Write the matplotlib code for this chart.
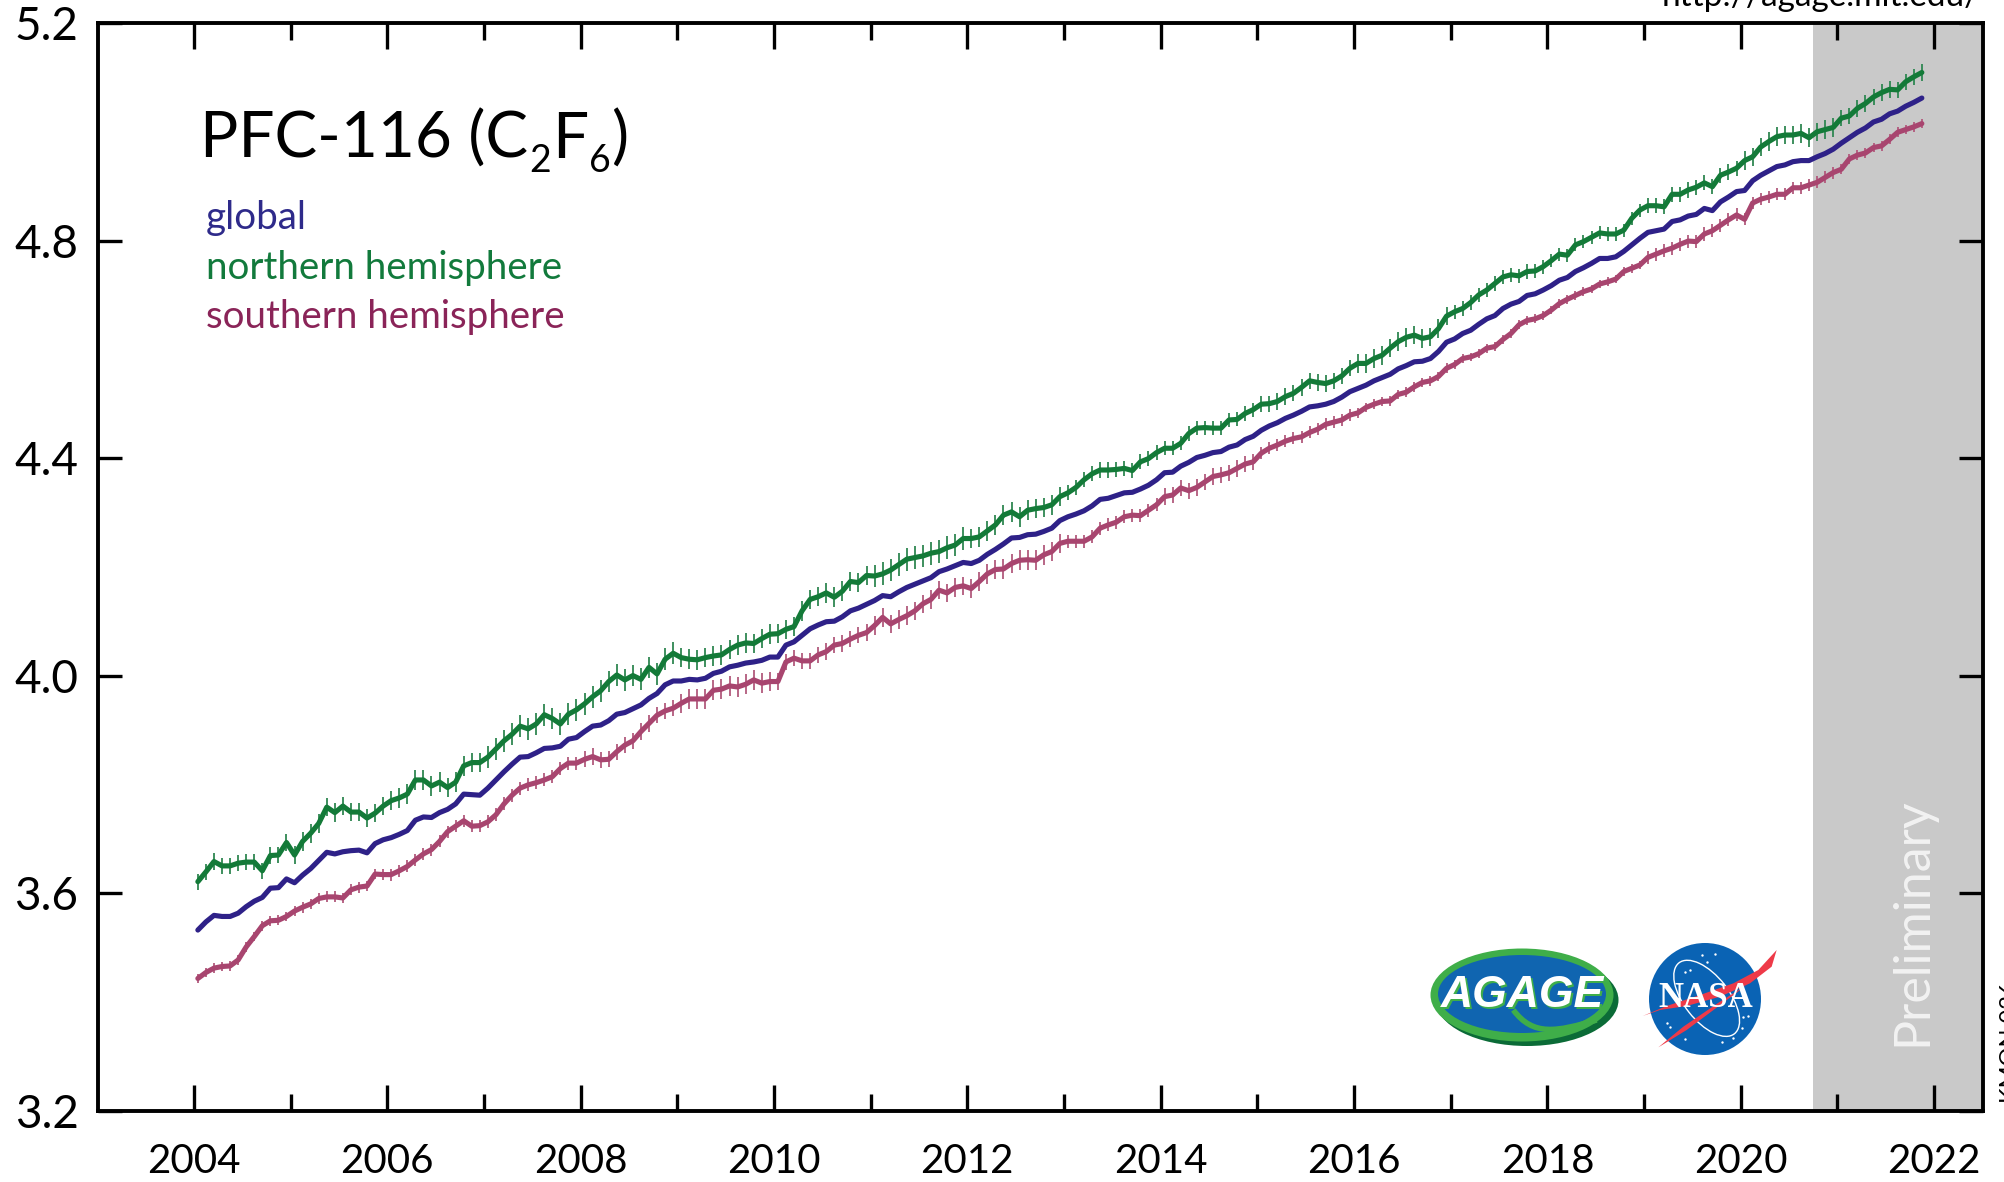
import numpy as np
import matplotlib
matplotlib.use('Agg')
import matplotlib.pyplot as plt
from matplotlib.patches import Ellipse, Polygon, PathPatch
from matplotlib.path import Path

plt.rcParams['font.family'] = ['Lato', 'DejaVu Sans']

start_year = 2004.04   # mid january, data are monthly

north = [3.621,3.639,3.658,3.650,3.650,3.655,3.657,3.657,3.641,3.669,3.670,3.693,3.670,3.695,3.710,3.728,3.758,3.748,3.760,3.749,3.749,3.738,3.747,3.760,3.770,3.775,3.782,3.808,3.808,3.797,3.804,3.794,3.804,3.834,3.840,3.840,3.850,3.865,3.880,3.892,3.907,3.902,3.911,3.928,3.921,3.911,3.929,3.937,3.948,3.961,
         3.972,3.989,4.001,3.992,4.000,3.993,4.015,4.003,4.030,
         4.041,4.033,4.030,4.029,4.033,4.036,4.038,4.048,4.056,4.060,4.059,4.068,4.076,4.077,4.085,4.090,4.119,4.140,4.145,4.152,4.144,4.155,4.173,4.171,4.184,4.183,4.187,4.194,4.204,4.214,4.217,4.220,
         4.225,4.228,4.235,4.240,4.252,4.252,4.255,4.266,4.277,4.295,4.301,4.292,4.304,4.307,4.309,4.314,4.329,4.336,4.346,4.360,4.371,4.378,4.378,4.379,4.381,4.377,4.393,4.399,4.410,4.418,4.418,4.427,4.445,
         4.455,4.456,4.455,4.455,4.470,4.471,4.482,4.489,4.499,4.500,4.504,4.513,4.519,4.530,4.542,4.539,4.537,4.542,4.551,4.565,4.574,4.574,4.583,4.589,4.602,4.614,4.622,4.626,4.620,4.623,4.638,4.661,
         4.669,4.675,4.686,4.700,4.709,4.721,4.733,4.737,4.735,4.743,4.744,4.752,4.763,4.775,4.773,4.792,4.798,4.806,4.814,4.812,4.812,4.819,4.841,4.856,4.864,4.864,4.862,4.885,4.885,4.893,4.898,
         4.906,4.899,4.920,4.926,4.933,4.947,4.954,4.972,4.982,4.991,4.994,4.994,4.997,4.989,5.000,5.004,5.008,5.025,5.029,5.043,5.052,5.064,5.072,5.078,5.077,5.092,5.101,5.109]

glob_mean = [3.532,3.547,3.559,3.557,3.557,3.563,3.575,3.585,3.592,3.609,3.610,3.626,3.619,3.633,3.645,3.660,3.675,3.672,3.676,3.678,3.679,3.674,3.691,3.698,3.702,3.708,3.715,3.734,3.740,3.739,3.748,3.754,3.764,3.782,3.781,3.780,3.793,3.808,3.823,3.837,3.850,3.851,3.858,3.866,3.867,3.870,3.883,3.886,3.897,3.907,3.909,3.917,3.929,3.932,3.939,3.946,3.958,
             3.967,3.983,
             3.990,3.990,3.993,3.992,3.995,4.004,4.008,4.016,4.019,4.023,4.025,4.028,4.034,4.034,4.056,4.062,4.074,4.086,4.093,4.099,4.100,4.108,4.119,4.124,4.131,4.138,4.147,4.145,4.154,4.162,4.168,4.174,4.180,
             4.191,4.196,4.202,4.208,4.206,4.212,4.223,4.232,4.242,4.253,4.254,4.259,4.260,4.265,4.271,4.285,4.292,4.297,4.303,4.312,4.324,4.326,4.331,4.336,4.337,4.343,4.350,4.360,4.373,4.374,4.385,4.392,
             4.401,4.405,4.410,4.412,4.420,4.424,4.434,4.440,4.451,4.459,4.465,4.473,4.479,4.486,4.494,4.496,4.499,4.504,4.512,4.522,4.528,4.534,4.542,4.548,4.554,4.564,4.570,4.577,4.578,4.583,4.596,4.613,
             4.619,4.629,4.635,4.646,4.656,4.662,4.675,4.683,4.688,4.699,4.702,4.709,4.717,4.727,4.732,4.743,4.750,4.758,4.767,4.767,4.770,4.780,4.792,4.804,4.815,4.818,4.821,4.835,4.838,4.845,4.848,
             4.859,4.855,4.871,4.880,4.890,4.892,4.910,4.920,4.928,4.936,4.939,4.945,4.947,4.947,4.954,4.960,4.968,4.979,4.989,4.999,5.007,5.018,5.023,5.033,5.038,5.047,5.054,5.062]

south = [3.443,3.454,3.462,3.465,3.466,3.477,3.501,3.520,3.540,3.549,3.550,3.557,3.567,3.574,3.580,3.590,3.593,3.593,3.591,3.606,3.611,3.613,3.635,3.634,3.634,3.641,3.649,3.661,3.672,3.680,3.695,3.713,3.723,3.733,3.723,3.724,3.731,3.744,3.764,3.780,3.793,3.799,3.803,3.808,3.814,3.829,3.839,3.839,3.846,3.851,3.845,3.846,3.860,3.872,3.880,3.897,3.912,3.927,3.935,
         3.940,3.949,3.957,3.957,3.957,3.973,3.975,3.981,3.979,3.984,3.992,3.986,3.989,3.989,4.025,4.032,4.027,4.027,4.038,4.044,4.056,4.059,4.067,4.074,4.079,4.092,4.107,4.095,4.103,4.110,4.119,4.132,4.140,
         4.157,4.152,4.162,4.165,4.160,4.173,4.187,4.195,4.196,4.206,4.212,4.213,4.212,4.222,4.228,4.243,4.247,4.247,4.247,4.255,4.271,4.277,4.282,4.292,4.295,4.294,4.304,4.314,4.329,4.332,4.345,4.340,
         4.346,4.356,4.366,4.369,4.373,4.381,4.389,4.393,4.409,4.418,4.424,4.431,4.436,4.439,4.447,4.453,4.462,4.466,4.470,4.479,4.483,4.493,4.499,4.504,4.505,4.517,4.521,4.531,4.539,4.542,4.550,4.565,
         4.572,4.583,4.586,4.592,4.602,4.605,4.618,4.629,4.645,4.653,4.656,4.662,4.672,4.684,4.692,4.699,4.706,4.711,4.720,4.724,4.729,4.743,4.749,4.755,4.769,4.775,4.781,4.786,4.793,4.799,4.798,
         4.812,4.818,4.828,4.838,4.847,4.839,4.869,4.876,4.880,4.885,4.885,4.897,4.897,4.902,4.907,4.916,4.925,4.931,4.950,4.957,4.961,4.971,4.974,4.986,4.999,5.004,5.009,5.015]

# typical size of the monthly bars, per calendar year 2004..2021
north_err_by_year = [.015,.017,.018,.020,.020,.018,.018,.021,.018,.014,.013,.015,.017,.013,.012,.014,.017,.015]
south_err_by_year = [.009,.010,.011,.012,.015,.018,.015,.017,.018,.012,.015,.011,.009,.008,.008,.012,.011,.009]

year_ticks = list(range(2004, 2023))
conc_ticks = [3.2, 3.6, 4.0, 4.4, 4.8, 5.2]
legend_names = ['global', 'northern hemisphere', 'southern hemisphere']

c_glob = '#2e2188'
c_north = '#137a38'
c_south = '#a8456f'

W, H = 2004, 1182
fig = plt.figure(figsize=(W/100, H/100), dpi=100, facecolor='white')
ax = fig.add_axes([98/W, 1-1110.6/H, (1983-98)/W, (1110.6-23)/H])

t = start_year + np.arange(len(north))/12.
yr = np.floor(t-2004).astype(int)
n_err = np.array(north_err_by_year)[yr]
s_err = np.array(south_err_by_year)[yr]

ax.axvspan(2020.75, 2022.506, color='#c9c9c9', lw=0, zorder=0)

ax.vlines(t, np.array(north)-n_err, np.array(north)+n_err, color='#2f8752', lw=1.3, zorder=2)
ax.vlines(t, np.array(south)-s_err, np.array(south)+s_err, color='#b25a7d', lw=1.3, zorder=2)
ax.plot(t, north, color=c_north, lw=3.7, zorder=3, solid_capstyle='round')
ax.plot(t, south, color=c_south, lw=3.7, zorder=3, solid_capstyle='round')
ax.plot(t, glob_mean, color=c_glob, lw=3.7, zorder=3, solid_capstyle='round')

ax.set_xlim(2003.007, 2022.506)
ax.set_ylim(3.2, 5.2)
for s in ax.spines.values():
    s.set_linewidth(2.8)

ax.set_xticks([y for y in year_ticks if y % 2 == 0])
ax.set_xticklabels([str(y) for y in year_ticks if y % 2 == 0])
ax.set_xticks([y for y in year_ticks if y % 2 == 1], minor=True)
ax.set_yticks(conc_ticks)
ax.set_yticklabels(['%.1f' % v for v in conc_ticks])
ax.tick_params(axis='x', which='major', direction='in', top=True, length=19, width=2.4, labelsize=29, pad=23)
ax.tick_params(axis='x', which='minor', direction='in', top=True, length=12, width=2.4)
ax.tick_params(axis='y', which='major', direction='in', right=True, length=17, width=2.4, labelsize=33, pad=14)

# overlay in figure pixels for text and logos
ov = fig.add_axes([0, 0, 1, 1], facecolor='none')
ov.set_xlim(0, W)
ov.set_ylim(H, 0)
ov.axis('off')

# title built piece by piece, subscripts sit low
title_parts = [('PFC-116 (C', 46, 158), ('2', 27, 172), ('F', 46, 158), ('6', 27, 172), (')', 46, 158)]
rend = fig.canvas.get_renderer()
tx = 200
for part, size, base in title_parts:
    p = ov.text(tx, base, part, fontsize=size, color='black', va='baseline')
    tx += p.get_window_extent(rend).width + 1

leg_colors = ['#2e2a8a', '#127a3c', '#8a2458']
for name, col, yy in zip(legend_names, leg_colors, [218, 268, 317]):
    ov.text(206, yy, name, fontsize=27.7, color=col, va='center')

ov.text(1980, 6, 'http://agage.mit.edu/', fontsize=24, ha='right', va='baseline')
ov.text(1912, 1046, 'Preliminary', fontsize=36, color='#f2f2f2', rotation=90, ha='center', va='bottom')
ov.text(2000, 1103, 'KMON 026', fontsize=17, rotation=90, ha='left', va='bottom', clip_on=False)


def zx(z):
    return 1400 + z/3.


def zy(z):
    return 930 + z/3.


def zpts(pts):
    return [(zx(a), zy(b)) for a, b in pts]


# AGAGE logo
ov.add_patch(Ellipse((1527, 1000), 183, 92, fc='#0b6b37', ec='none'))
ov.add_patch(Ellipse((1522, 995), 183, 93, fc='#3fae49', ec='none'))
ov.add_patch(Ellipse((1522, 994), 168, 78, fc='#1065b0', ec='none'))
leaf = Path(zpts([(340, 240), (400, 320), (470, 305), (590, 270)]), [Path.MOVETO, Path.CURVE4, Path.CURVE4, Path.CURVE4])
ov.add_patch(PathPatch(leaf, fc='none', ec='#3fae49', lw=4))
ov.text(zx(368)+1.5, zy(197)+1.5, 'AGAGE', fontsize=32, fontweight='bold', style='italic', color='#3fae49',
        family='Liberation Sans', ha='center', va='center')
ov.text(zx(368), zy(197), 'AGAGE', fontsize=32, fontweight='bold', style='italic', color='white',
        family='Liberation Sans', ha='center', va='center')

# NASA logo
ov.add_patch(Ellipse((1705, 999), 112, 112, fc='#0a63b4', ec='none'))
ov.add_patch(Ellipse((zx(920), zy(205)), 90, 45, angle=52, fc='none', ec='white', lw=1.0))
star_x = [905, 945, 920, 855, 870, 1030, 1045, 1025, 855, 810, 800, 1000, 965]
star_y = [75, 72, 95, 125, 120, 260, 258, 295, 328, 290, 280, 325, 335]
ov.scatter([zx(a) for a in star_x], [zy(b) for b in star_y], s=3, color='white', lw=0)
ov.add_patch(Polygon(zpts([(728, 258), (800, 228), (900, 195), (1000, 160), (1075, 120), (1130, 60), (1115, 110),
                           (1050, 160), (960, 200), (860, 228), (780, 240)]), fc='#ee3a48', ec='none'))
ov.text(zx(918), zy(205), 'NASA', fontsize=25, fontweight='bold', color='white', family='Liberation Serif', ha='center', va='center')
ov.add_patch(Polygon(zpts([(775, 352), (850, 290), (960, 215), (1040, 165), (970, 218), (860, 300)]), fc='#ee3a48', ec='none'))

fig.savefig('out.png', dpi=100)
